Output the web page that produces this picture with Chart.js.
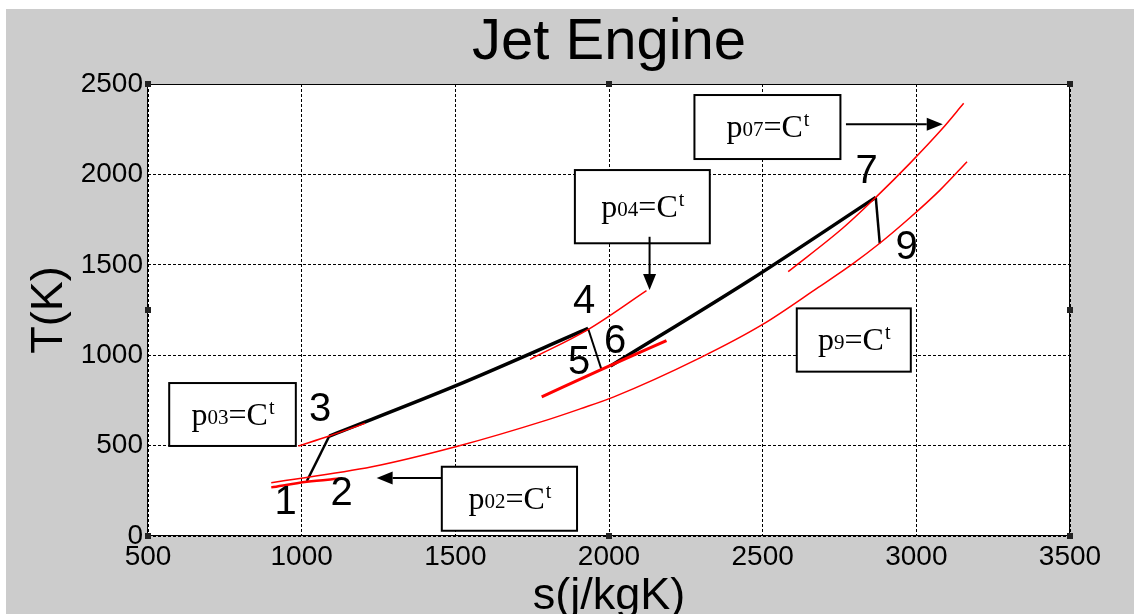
<!DOCTYPE html>
<html>
<head>
<meta charset="utf-8">
<script src="https://cdn.jsdelivr.net/npm/chart.js@4.4.1/dist/chart.umd.min.js"></script>
<style>
  html, body { margin: 0; padding: 0; background: #fff; }
  canvas { display: block; }
</style>
</head>
<body>
<canvas id="visu" width="1134" height="614"></canvas>
<script>
// valeurs (s en j/kgK, T en K)
const xTicks = [500, 1000, 1500, 2000, 2500, 3000, 3500];
const yTicks = [0, 500, 1000, 1500, 2000, 2500];

// courbes isobares (rouge)
const s01 = [901, 1017, 1131];
const T01 = [269, 300, 319];
const sLow = [901, 1229, 1504, 1797, 1906, 2014, 2296, 2500, 2681, 2795, 2881, 2979, 3077, 3165];
const TLow = [295, 383, 495, 641, 703, 768, 985, 1170, 1375, 1508, 1619, 1760, 1913, 2070];
const s03 = [989, 1090, 1206];
const T03 = [498, 553, 623];
const s04 = [1743, 1933, 2122];
const T04 = [977, 1143, 1357];
const s05 = [1781, 1976, 2187];
const T05 = [770, 922, 1080];
const s07 = [2583, 2762, 2868, 2979, 3082, 3154];
const T07 = [1462, 1705, 1873, 2061, 2248, 2393];

// transformations du cycle (noir)
const s23 = [1017, 1090];
const T23 = [304, 553];
const s34 = [1090, 1504, 1932];
const T34 = [553, 833, 1148];
const s45 = [1932, 1976];
const T45 = [1148, 918];
const s67 = [2005, 2459, 2868];
const T67 = [940, 1416, 1873];
const s79 = [2868, 2881];
const T79 = [1873, 1619];

// numéros des points
const pointNames = ['1', '2', '3', '4', '5', '6', '7', '9'];
const pointS = [948, 1130, 1060, 1919, 1903, 2020, 2838, 2968];
const pointT = [181, 232, 697, 1296, 955, 1075, 2015, 1591];

// cadres "p=Ct" : indice, s gauche, s droite, T haut, T bas
const boxSubs = ['03', '02', '04', '07', '9'];
const boxS0 = [569, 1456, 1889, 2278, 2611];
const boxS1 = [981, 1896, 2328, 2753, 2982];
const boxT0 = [846, 383, 2024, 2439, 1259];
const boxT1 = [498, 29, 1619, 2085, 909];

// flèches : départ -> pointe
const arrowS0 = [2771, 2132, 1456];
const arrowT0 = [2277, 1655, 321];
const arrowS1 = [3086, 2132, 1244];
const arrowT1 = [2277, 1360, 321];

function pts(xs, ys) {
    return xs.map((x, i) => ({ x: x, y: ys[i] }));
}

function serie(xs, ys, color, width) {
    return {
        data: pts(xs, ys),
        showLine: true,
        borderColor: color,
        borderWidth: width,
        pointRadius: 0,
        fill: false,
        tension: 0.4,
        cubicInterpolationMode: 'monotone'
    };
}

const RED = '#ff0000';
const datasets = [
    serie(sLow, TLow, RED, 1.5),
    serie(s01, T01, RED, 2.5),
    serie(s03, T03, RED, 1.5),
    serie(s04, T04, RED, 1.5),
    serie(s05, T05, RED, 3),
    serie(s07, T07, RED, 1.5),
    serie(s23, T23, '#000', 2.5),
    serie(s34, T34, '#000', 3.5),
    serie(s45, T45, '#000', 2),
    serie(s67, T67, '#000', 3.5),
    serie(s79, T79, '#000', 2.5)
];

function drawPText(ctx, cx, cy, sub) {
    const big = '32px "Liberation Serif"';
    const small = '21px "Liberation Serif"';
    const sup = '20px "Liberation Serif"';
    ctx.font = big;
    const wp = ctx.measureText('p').width;
    const we = ctx.measureText('=C').width;
    ctx.font = small;
    const ws = ctx.measureText(sub).width;
    ctx.font = sup;
    const wt = ctx.measureText('t').width;
    let x = cx - (wp + ws + we + wt) / 2;
    const base = cy + 10;
    ctx.textAlign = 'left';
    ctx.textBaseline = 'alphabetic';
    ctx.fillStyle = '#000';
    ctx.font = big; ctx.fillText('p', x, base); x += wp;
    ctx.font = small; ctx.fillText(sub, x, base - 1); x += ws;
    ctx.font = big; ctx.fillText('=C', x, base); x += we;
    ctx.font = sup; ctx.fillText('t', x + 1, base - 11);
}

const decor = {
    id: 'decor',
    beforeDraw(chart) {
        const { ctx, chartArea: a } = chart;
        ctx.save();
        ctx.fillStyle = '#ffffff';
        ctx.fillRect(0, 0, chart.width, chart.height);
        ctx.fillStyle = '#cccccc';
        ctx.fillRect(6, 9, chart.width - 6, chart.height - 9);
        ctx.fillStyle = '#ffffff';
        ctx.fillRect(a.left, a.top, a.right - a.left, a.bottom - a.top);
        ctx.restore();
    },
    beforeDatasetsDraw(chart) {
        const { ctx, chartArea: a } = chart;
        ctx.save();
        ctx.lineWidth = 1;
        ctx.strokeStyle = '#000';
        ctx.setLineDash([]);
        ctx.strokeRect(Math.round(a.left) - 0.5, Math.round(a.top) + 0.5,
            Math.round(a.right - a.left), Math.round(a.bottom - a.top) - 1);
        ctx.restore();
    },
    afterDatasetsDraw(chart) {
        const { ctx, chartArea: a } = chart;
        const xs = chart.scales.x, ys = chart.scales.y;
        ctx.save();

        // cadres
        boxSubs.forEach((sub, i) => {
            const x0 = xs.getPixelForValue(boxS0[i]), x1 = xs.getPixelForValue(boxS1[i]);
            const y0 = ys.getPixelForValue(boxT0[i]), y1 = ys.getPixelForValue(boxT1[i]);
            ctx.fillStyle = '#fff';
            ctx.fillRect(x0, y0, x1 - x0, y1 - y0);
            ctx.lineWidth = 2;
            ctx.strokeStyle = '#000';
            ctx.strokeRect(x0, y0, x1 - x0, y1 - y0);
            drawPText(ctx, (x0 + x1) / 2, (y0 + y1) / 2, sub);
        });

        // flèches
        arrowS0.forEach((s, i) => {
            const x0 = xs.getPixelForValue(s), y0 = ys.getPixelForValue(arrowT0[i]);
            const x1 = xs.getPixelForValue(arrowS1[i]), y1 = ys.getPixelForValue(arrowT1[i]);
            const ang = Math.atan2(y1 - y0, x1 - x0);
            const L = 16, W = 6.5;
            const bx = x1 - L * Math.cos(ang), by = y1 - L * Math.sin(ang);
            ctx.strokeStyle = '#000';
            ctx.lineWidth = 2;
            ctx.beginPath();
            ctx.moveTo(x0, y0);
            ctx.lineTo(bx, by);
            ctx.stroke();
            ctx.fillStyle = '#000';
            ctx.beginPath();
            ctx.moveTo(x1, y1);
            ctx.lineTo(bx + W * Math.sin(ang), by - W * Math.cos(ang));
            ctx.lineTo(bx - W * Math.sin(ang), by + W * Math.cos(ang));
            ctx.closePath();
            ctx.fill();
        });

        // numéros
        ctx.fillStyle = '#000';
        ctx.font = '40px "Liberation Sans"';
        ctx.textAlign = 'center';
        ctx.textBaseline = 'middle';
        pointNames.forEach((n, i) => {
            ctx.fillText(n, xs.getPixelForValue(pointS[i]), ys.getPixelForValue(pointT[i]));
        });

        // poignées de sélection (style matlab)
        const mx = (a.left + a.right) / 2, my = (a.top + a.bottom) / 2;
        const handles = [[a.left, a.top], [mx, a.top], [a.right, a.top], [a.left, my],
            [a.right, my], [a.left, a.bottom], [mx, a.bottom], [a.right, a.bottom]];
        ctx.fillStyle = '#222';
        handles.forEach(h => ctx.fillRect(Math.round(h[0]) - 3, Math.round(h[1]) - 3, 6, 6));

        // titres
        ctx.fillStyle = '#000';
        ctx.textAlign = 'center';
        ctx.textBaseline = 'alphabetic';
        ctx.font = '58px "Liberation Sans"';
        ctx.fillText('Jet Engine', mx, 59);
        ctx.font = '45px "Liberation Sans"';
        ctx.fillText('s(j/kgK)', mx, 609);
        ctx.translate(62, my);
        ctx.rotate(-Math.PI / 2);
        ctx.fillText('T(K)', 0, 0);
        ctx.restore();
    }
};

const config = {
    type: 'scatter',
    data: { datasets: datasets },
    options: {
        responsive: false,
        animation: false,
        devicePixelRatio: 1,
        layout: { padding: { top: 84, right: 64, left: 0, bottom: 0 } },
        plugins: {
            legend: { display: false },
            title: { display: false },
            tooltip: { enabled: false }
        },
        scales: {
            x: {
                type: 'linear',
                min: xTicks[0],
                max: xTicks[xTicks.length - 1],
                afterBuildTicks: s => { s.ticks = xTicks.map(v => ({ value: v })); },
                afterFit: s => { s.height = 78; },
                ticks: {
                    color: '#000',
                    font: { family: 'Liberation Sans', size: 28 },
                    padding: 4,
                    maxRotation: 0,
                    autoSkip: false,
                    callback: v => String(v)
                },
                grid: { color: '#000', lineWidth: 1, drawTicks: false },
                border: { display: false, dash: [3, 2] }
            },
            y: {
                type: 'linear',
                min: yTicks[0],
                max: yTicks[yTicks.length - 1],
                afterBuildTicks: s => { s.ticks = yTicks.map(v => ({ value: v })); },
                afterFit: s => { s.width = 148; },
                ticks: {
                    color: '#000',
                    font: { family: 'Liberation Sans', size: 28 },
                    padding: 5,
                    autoSkip: false,
                    callback: v => String(v)
                },
                grid: { color: '#000', lineWidth: 1, drawTicks: false },
                border: { display: false, dash: [3, 2] }
            }
        }
    },
    plugins: [decor]
};

const ctx = document.getElementById('visu').getContext('2d');
const currentChart = new Chart(ctx, config);
</script>
</body>
</html>
